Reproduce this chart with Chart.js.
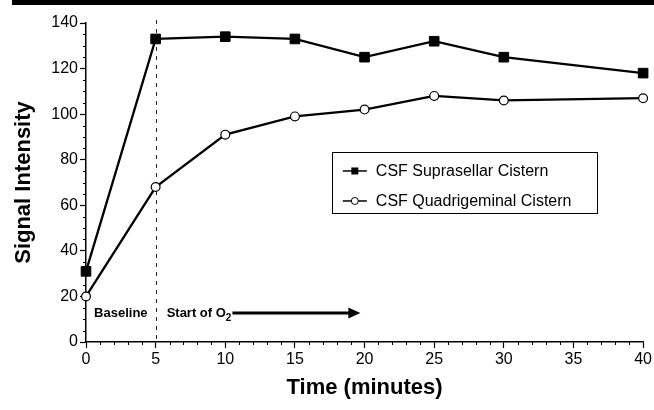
<!DOCTYPE html>
<html>
<head>
<meta charset="utf-8">
<script src="https://cdn.jsdelivr.net/npm/chart.js@4.4.1/dist/chart.umd.min.js"></script>
<style>
  html,body{margin:0;padding:0;background:#fff}
  #wrap{width:654px;height:410px;position:relative}
</style>
</head>
<body>
<div id="wrap"><canvas id="c" width="654" height="410"></canvas></div>
<script>
/* ---- data ---- */
const times         = [0, 5, 10, 15, 20, 25, 30, 40];
const suprasellar   = [31, 133, 134, 133, 125, 132, 125, 118];
const quadrigeminal = [20, 68, 91, 99, 102, 108, 106, 107];
const seriesNames   = ['CSF Suprasellar Cistern', 'CSF Quadrigeminal Cistern'];
const xTicks = [0, 5, 10, 15, 20, 25, 30, 35, 40];
const yTicks = [0, 20, 40, 60, 80, 100, 120, 140];
const o2Start = 5;      // minutes, dashed line
const arrowEnd = 19.7;  // minutes

const FONT = "'Liberation Sans', Arial, sans-serif";
const pts = arr => arr.map((v, i) => ({x: times[i], y: v}));

/* ---- extras: top bar, minor ticks, O2 marker, legend ---- */
const extras = {
  id: 'extras',
  beforeDraw(chart){
    const ctx = chart.ctx;
    ctx.save();
    ctx.fillStyle = '#000';
    ctx.fillRect(12, 0, chart.width - 12, 5);
    ctx.restore();
  },
  beforeDatasetsDraw(chart){
    const {ctx, scales:{x, y}} = chart;
    const px = Math.round(x.getPixelForValue(o2Start)) + 0.5;
    ctx.save();
    ctx.strokeStyle = '#222';
    ctx.lineWidth = 1;
    ctx.setLineDash([4, 5]);
    ctx.beginPath();
    ctx.moveTo(px, y.top - 3);
    ctx.lineTo(px, y.bottom);
    ctx.stroke();
    ctx.restore();
  },
  afterDraw(chart){
    const {ctx, scales:{x, y}} = chart;
    ctx.save();
    ctx.strokeStyle = '#000';
    ctx.lineWidth = 1;
    // minor ticks
    for(let v = 0; v <= 40; v++){
      if(v % 5 === 0) continue;
      const px = Math.round(x.getPixelForValue(v)) + 0.5;
      ctx.beginPath(); ctx.moveTo(px, y.bottom); ctx.lineTo(px, y.bottom + 3); ctx.stroke();
    }
    for(let v = 0; v <= 140; v += 5){
      if(v % 20 === 0) continue;
      const py = Math.round(y.getPixelForValue(v)) + 0.5;
      ctx.beginPath(); ctx.moveTo(x.left, py); ctx.lineTo(x.left - 3, py); ctx.stroke();
    }

    // Baseline / Start of O2 annotation
    const ty = y.bottom - 29;
    ctx.fillStyle = '#000';
    ctx.textBaseline = 'middle';
    ctx.font = 'bold 13px ' + FONT;
    ctx.textAlign = 'center';
    ctx.fillText('Baseline', x.getPixelForValue(o2Start / 2), ty);
    ctx.textAlign = 'left';
    let sx = x.getPixelForValue(o2Start) + 11;
    ctx.fillText('Start of O', sx, ty);
    sx += ctx.measureText('Start of O').width;
    ctx.font = 'bold 10px ' + FONT;
    ctx.fillText('2', sx, ty + 5);
    sx += ctx.measureText('2').width + 1;
    const ex = x.getPixelForValue(arrowEnd);
    ctx.lineWidth = 3;
    ctx.beginPath(); ctx.moveTo(sx, ty); ctx.lineTo(ex - 9, ty); ctx.stroke();
    ctx.beginPath();
    ctx.moveTo(ex, ty); ctx.lineTo(ex - 12, ty - 5.5); ctx.lineTo(ex - 12, ty + 5.5);
    ctx.closePath(); ctx.fill();

    // legend box
    const bx = x.getPixelForValue(17.65), bw = 265;
    const by = y.getPixelForValue(83.4), bh = 61;
    ctx.lineWidth = 1;
    ctx.strokeRect(Math.round(bx) + 0.5, Math.round(by) + 0.5, bw, bh);
    ctx.font = '16px ' + FONT;
    chart.data.datasets.forEach((ds, i) => {
      const ry = by + 19 + i * 30;
      const l0 = bx + 11, l1 = bx + 35, mx = (l0 + l1) / 2;
      ctx.lineWidth = 1.5;
      ctx.beginPath(); ctx.moveTo(l0, ry); ctx.lineTo(l1, ry); ctx.stroke();
      if(ds.pointStyle === 'rect'){
        ctx.fillRect(mx - 3.5, ry - 3.5, 7, 7);
      } else {
        ctx.beginPath(); ctx.arc(mx, ry, 3.5, 0, Math.PI * 2);
        ctx.fillStyle = '#fff'; ctx.fill(); ctx.lineWidth = 1; ctx.stroke();
        ctx.fillStyle = '#000';
      }
      ctx.fillText(ds.label, bx + 44, ry + 1);
    });
    ctx.restore();
  }
};

/* ---- chart ---- */
new Chart(document.getElementById('c'), {
  type: 'line',
  data: {
    datasets: [
      {label: seriesNames[0], data: pts(suprasellar), borderColor: '#000', borderWidth: 2.3,
       pointStyle: 'rect', pointRadius: 6.8, pointBackgroundColor: '#000', pointBorderColor: '#000',
       pointBorderWidth: 1, clip: false},
      {label: seriesNames[1], data: pts(quadrigeminal), borderColor: '#000', borderWidth: 2.3,
       pointStyle: 'circle', pointRadius: 4.4, pointBackgroundColor: '#fff', pointBorderColor: '#000',
       pointBorderWidth: 1.2, clip: false}
    ]
  },
  options: {
    responsive: false, animation: false,
    layout: {padding: {top: 23, right: 10, left: 0, bottom: 0}},
    plugins: {legend: {display: false}, tooltip: {enabled: false}},
    scales: {
      x: {
        type: 'linear', min: 0, max: 40,
        afterBuildTicks: s => { s.ticks = xTicks.map(v => ({value: v})); },
        afterFit: s => { s.height = 68; },
        grid: {drawOnChartArea: false, tickLength: 6, tickColor: '#000', tickWidth: 1.2},
        border: {color: '#000', width: 1.5},
        ticks: {color: '#000', font: {family: FONT, size: 16}, padding: 2, maxRotation: 0},
        title: {display: true, text: 'Time (minutes)', color: '#000',
                font: {family: FONT, size: 22, weight: 'bold'}, padding: {top: 0, bottom: 9}}
      },
      y: {
        min: 0, max: 140,
        afterBuildTicks: s => { s.ticks = yTicks.map(v => ({value: v})); },
        afterFit: s => { s.width = 86; },
        grid: {drawOnChartArea: false, tickLength: 6, tickColor: '#000', tickWidth: 1.2},
        border: {color: '#000', width: 1.5},
        ticks: {color: '#000', font: {family: FONT, size: 16}, padding: 2},
        title: {display: true, text: 'Signal Intensity', color: '#000',
                font: {family: FONT, size: 22, weight: 'bold'}, padding: {top: 11, bottom: 11}}
      }
    }
  },
  plugins: [extras]
});
</script>
</body>
</html>
